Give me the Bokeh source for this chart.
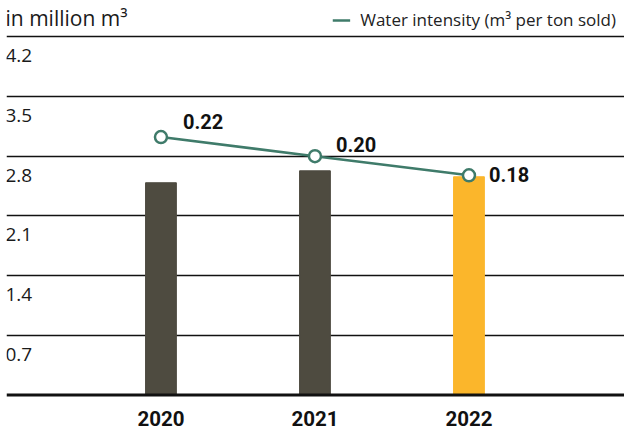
from bokeh.plotting import figure
from bokeh.models import Range1d, FixedTicker, Span, ColumnDataSource, Legend, LegendItem
from bokeh.core.properties import value
from bokeh.embed import file_html
from bokeh.resources import INLINE

# ---- data ----
years = ["2020", "2021", "2022"]
water_volume = [2.49, 2.63, 2.56]          # in million m3
water_intensity = [0.22, 0.20, 0.18]       # m3 per ton sold
intensity_labels = ["0.22", "0.20", "0.18"]
y_ticks = [0.7, 1.4, 2.1, 2.8, 3.5, 4.2]
y_tick_labels = ["0.7", "1.4", "2.1", "2.8", "3.5", "4.2"]
unit_label = "in million m³"
legend_label = "Water intensity (m³ per ton sold)"

# ---- style ----
BAR_DARK = "#4e4b40"
BAR_HIGHLIGHT = "#fbb62b"
LINE_COLOR = "#3f7b6a"
FONT_LIGHT = "Open Sans"
FONT_BOLD = "Roboto"
bar_colors = [BAR_DARK, BAR_DARK, BAR_HIGHLIGHT]
label_x_off = [22, 21, 20]
label_y_off = [-16, -12, -1]

X0, X1 = -1.003, 3.010
xs = list(range(len(years)))

src = ColumnDataSource(dict(
    x=xs, year=years, vol=water_volume, color=bar_colors,
    inten=water_intensity, ilab=intensity_labels,
    lxo=label_x_off, lyo=label_y_off,
    zero=[0] * len(years),
))

p = figure(width=624, height=430, output_backend="svg", toolbar_location=None,
           x_range=Range1d(X0, X1), y_range=Range1d(-0.4165, 4.628),
           min_border=0, min_border_left=6, min_border_right=0,
           min_border_top=0, min_border_bottom=0)
p.extra_y_ranges = {"int": Range1d(-0.0866, 0.3627)}
p.xaxis.visible = False
p.yaxis.visible = False
p.outline_line_color = None
p.xgrid.visible = False
p.ygrid.ticker = FixedTicker(ticks=y_ticks)
p.ygrid.grid_line_color = "#111111"
p.ygrid.grid_line_width = 1.5
p.background_fill_color = "white"
p.border_fill_color = "white"

# bars
p.vbar(x="x", top="vol", bottom=0, width=0.2, color="color", source=src)

# zero line
p.add_layout(Span(location=0, dimension="width", line_color="#111111", line_width=3))

# y tick labels (below each gridline)
tick_src = ColumnDataSource(dict(y=y_ticks, t=y_tick_labels, x=[X0] * len(y_ticks)))
p.text(x="x", y="y", text="t", source=tick_src, text_font=value(FONT_LIGHT),
       text_font_size="19px", text_color="#1a1a1a",
       text_baseline="middle", text_align="left", y_offset=19, x_offset=-1)

# unit header
p.text(x=[X0], y=[4.2], text=[unit_label], text_font=value(FONT_LIGHT),
       text_font_size="21px", text_color="#1a1a1a", text_baseline="middle",
       text_align="left", y_offset=-19, x_offset=-1)

# year labels
p.text(x="x", y="zero", text="year", source=src, text_font=value(FONT_BOLD),
       text_font_size="20.5px", text_font_style="bold", text_color="#111111",
       text_baseline="middle", text_align="center", y_offset=24)

# intensity line
line_r = p.line(x="x", y="inten", source=src, y_range_name="int",
                line_color=LINE_COLOR, line_width=2.5)
p.scatter(x="x", y="inten", source=src, y_range_name="int", size=12,
          fill_color="white", line_color=LINE_COLOR, line_width=2.5)
p.text(x="x", y="inten", text="ilab", source=src, y_range_name="int",
       text_font=value(FONT_BOLD), text_font_size="20px", text_font_style="bold",
       text_color="#111111", text_baseline="middle", text_align="left",
       x_offset="lxo", y_offset="lyo")

legend = Legend(items=[LegendItem(label=legend_label, renderers=[line_r])],
                location="top_right", orientation="horizontal",
                border_line_color=None, background_fill_alpha=0,
                padding=0, margin=8, spacing=0,
                glyph_width=18, glyph_height=10, label_height=10,
                label_standoff=10, label_text_font=FONT_LIGHT,
                label_text_font_size="17px", label_text_color="#222222")
p.add_layout(legend)

open("out.html", "w").write(file_html(p, INLINE))
